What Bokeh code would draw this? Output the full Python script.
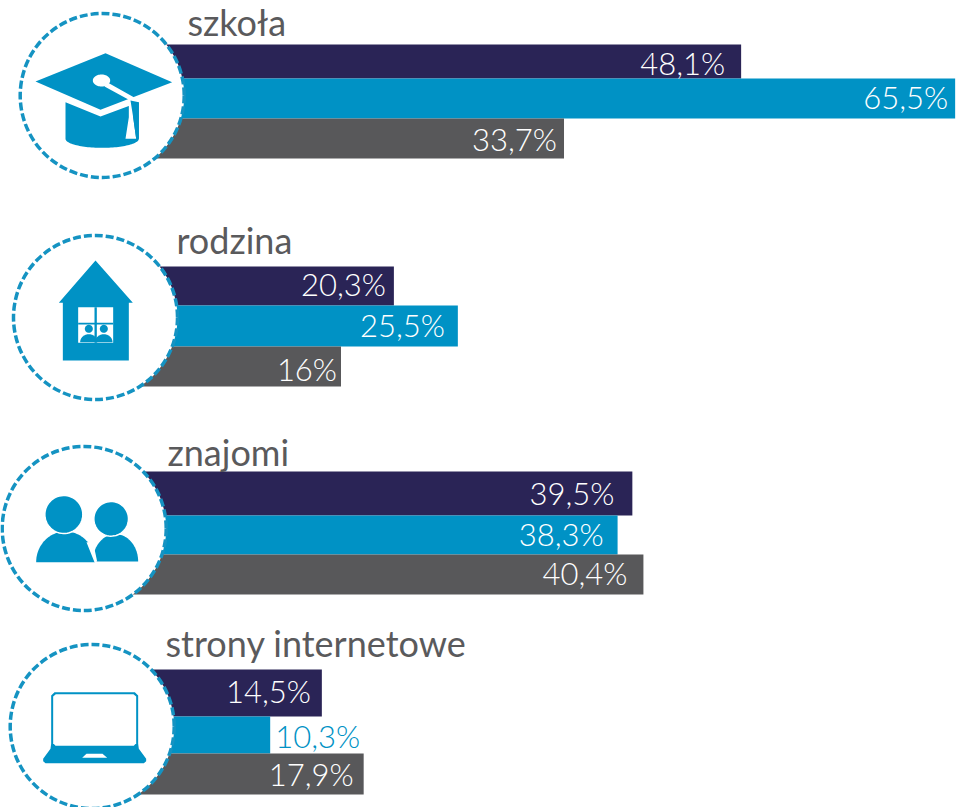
import numpy as np
from bokeh.plotting import figure
from bokeh.models import Range1d
from bokeh.core.properties import value
from bokeh.embed import file_html
from bokeh.resources import INLINE

# ---- data ----
categories = ["szkoła", "rodzina", "znajomi", "strony internetowe"]
series_1 = [48.1, 20.3, 39.5, 14.5]
series_2 = [65.5, 25.5, 38.3, 10.3]
series_3 = [33.7, 16.0, 40.4, 17.9]
value_labels = [
    ["48,1%", "65,5%", "33,7%"],
    ["20,3%", "25,5%", "16%"],
    ["39,5%", "38,3%", "40,4%"],
    ["14,5%", "10,3%", "17,9%"],
]

# ---- layout ----
W, H = 956, 807
PX_PER_PCT = 12.3
NAVY, BLUE, GREY = "#2a2456", "#0092c5", "#5a5a5c"
series_colors = [NAVY, BLUE, "#58585a"]
group_zero_px = [149, 143.7, 146, 143]
circle_xy = [(101.7, 95), (95, 317), (83.7, 528), (91.7, 726)]
row_edges = [(44, 78, 118, 158), (266, 305, 346, 386), (471, 515, 554, 594), (669, 716, 753, 794)]
title_xy = [(187, 21), (176, 239), (167, 451), (165, 642)]
label_dx = [[-16, -7, -7], [-8, -13, -4], [-18, -14, -16], [-11, 90, -10]]
label_dy = [[1, -2, 0], [-2, -1, 2], [-1, -1, -2], [-2, 1, 0]]

p = figure(width=W, height=H, output_backend="svg", toolbar_location=None,
           x_range=Range1d(0, W / PX_PER_PCT), y_range=Range1d(H, 0),
           x_axis_type=None, y_axis_type=None, min_border=0,
           outline_line_color=None, background_fill_color="white", border_fill_color="white")
p.extra_x_ranges = {"px": Range1d(0, W)}
p.grid.visible = False
p.styles = {"position": "absolute", "left": "0px", "top": "0px"}

series = [series_1, series_2, series_3]

# bars
for s, vals in enumerate(series):
    left = [circle_xy[g][0] / PX_PER_PCT for g in range(4)]
    right = [group_zero_px[g] / PX_PER_PCT + vals[g] for g in range(4)]
    top = [row_edges[g][s] for g in range(4)]
    bottom = [row_edges[g][s + 1] for g in range(4)]
    p.quad(left=left, right=right, top=top, bottom=bottom,
           fill_color=series_colors[s], line_color=None)

# circles
p.scatter(x=[c[0] for c in circle_xy], y=[c[1] for c in circle_xy], size=164,
          marker="circle", x_range_name="px", fill_color="white", line_color="#1593c2",
          line_width=3.5, line_dash="8 3")


def shape(points, oy, color=BLUE, stroke=None):
    pts = np.array(points, dtype=float)
    p.patch(pts[:, 0] / 3, pts[:, 1] / 3 + oy, x_range_name="px",
            fill_color=color, line_color=stroke, line_width=1.5)


def ell(cx, cy, rx, ry, a0=0, a1=360):
    t = np.radians(np.linspace(a0, a1, 60))
    return np.c_[cx + rx * np.cos(t), cy + ry * np.sin(t)].tolist()


# cap icon
shape(ell(305, 415, 110, 27, 0, 180) + [(195, 305), (300, 348), (415, 305)], 0)
shape([(105, 243), (315, 158), (515, 245), (300, 328)], 0)
shape(ell(303, 240, 26, 18), 0, "white")
shape([(320, 245), (400, 290), (398, 350), (407, 415), (375, 415), (385, 350), (385, 298), (312, 258)], 0, "white")
shape([(390, 300), (415, 305), (415, 415), (407, 415), (398, 350)], 0)

# house icon
shape([(285, 105), (397, 232), (385, 232), (385, 405), (187, 405), (187, 232), (175, 232)], 225)
shape([(233, 245), (338, 245), (338, 352), (233, 352)], 225, "white")
shape([(282, 245), (289, 245), (289, 352), (282, 352)], 225)
shape([(233, 292), (338, 292), (338, 297), (233, 297)], 225)
for cx in (265, 310):
    shape(ell(cx, 310, 12, 12), 225)
    shape(ell(cx, 350, 26, 24, 180, 360), 225)

# people icon
shape(ell(195, 380, 88, 92, 180, 360), 435)
shape(ell(345, 378, 68, 82, 180, 360), 435)
shape([(282, 380), (290, 378), (283, 345), (270, 320), (258, 320)], 435, "white")
shape(ell(190, 237, 57, 57), 435, BLUE, "white")
shape(ell(332, 250, 52, 52), 435, BLUE, "white")

# laptop icon
shape([(152, 225), (162, 215), (403, 215), (413, 225), (413, 370), (415, 385), (437, 415), (437, 422),
       (430, 428), (135, 428), (128, 422), (128, 415), (150, 385), (152, 370)], 620)
shape([(158, 228), (166, 221), (399, 221), (407, 228), (407, 368), (400, 376), (165, 376), (158, 368)], 620, "white")
shape([(245, 412), (258, 400), (306, 400), (320, 412)], 620, "white")

# titles
p.text(x=[t[0] for t in title_xy], y=[t[1] for t in title_xy], text=categories, x_range_name="px",
       text_font=value("Lato"), text_font_size="36px", text_color=GREY,
       text_align="left", text_baseline="alphabetic")

# value labels
for s, vals in enumerate(series):
    xs = [group_zero_px[g] / PX_PER_PCT + vals[g] + label_dx[g][s] / PX_PER_PCT for g in range(4)]
    ys = [(row_edges[g][s] + row_edges[g][s + 1]) / 2 + label_dy[g][s] for g in range(4)]
    txt = [value_labels[g][s] for g in range(4)]
    col = ["white"] * 4
    if s == 1:
        col[3] = BLUE
    p.text(x=xs, y=ys, text=txt, text_font=value("Lato Light, Lato"), text_font_size="31px", text_color=col,
           text_align="right", text_baseline="middle")

open("out.html", "w").write(file_html(p, INLINE))
